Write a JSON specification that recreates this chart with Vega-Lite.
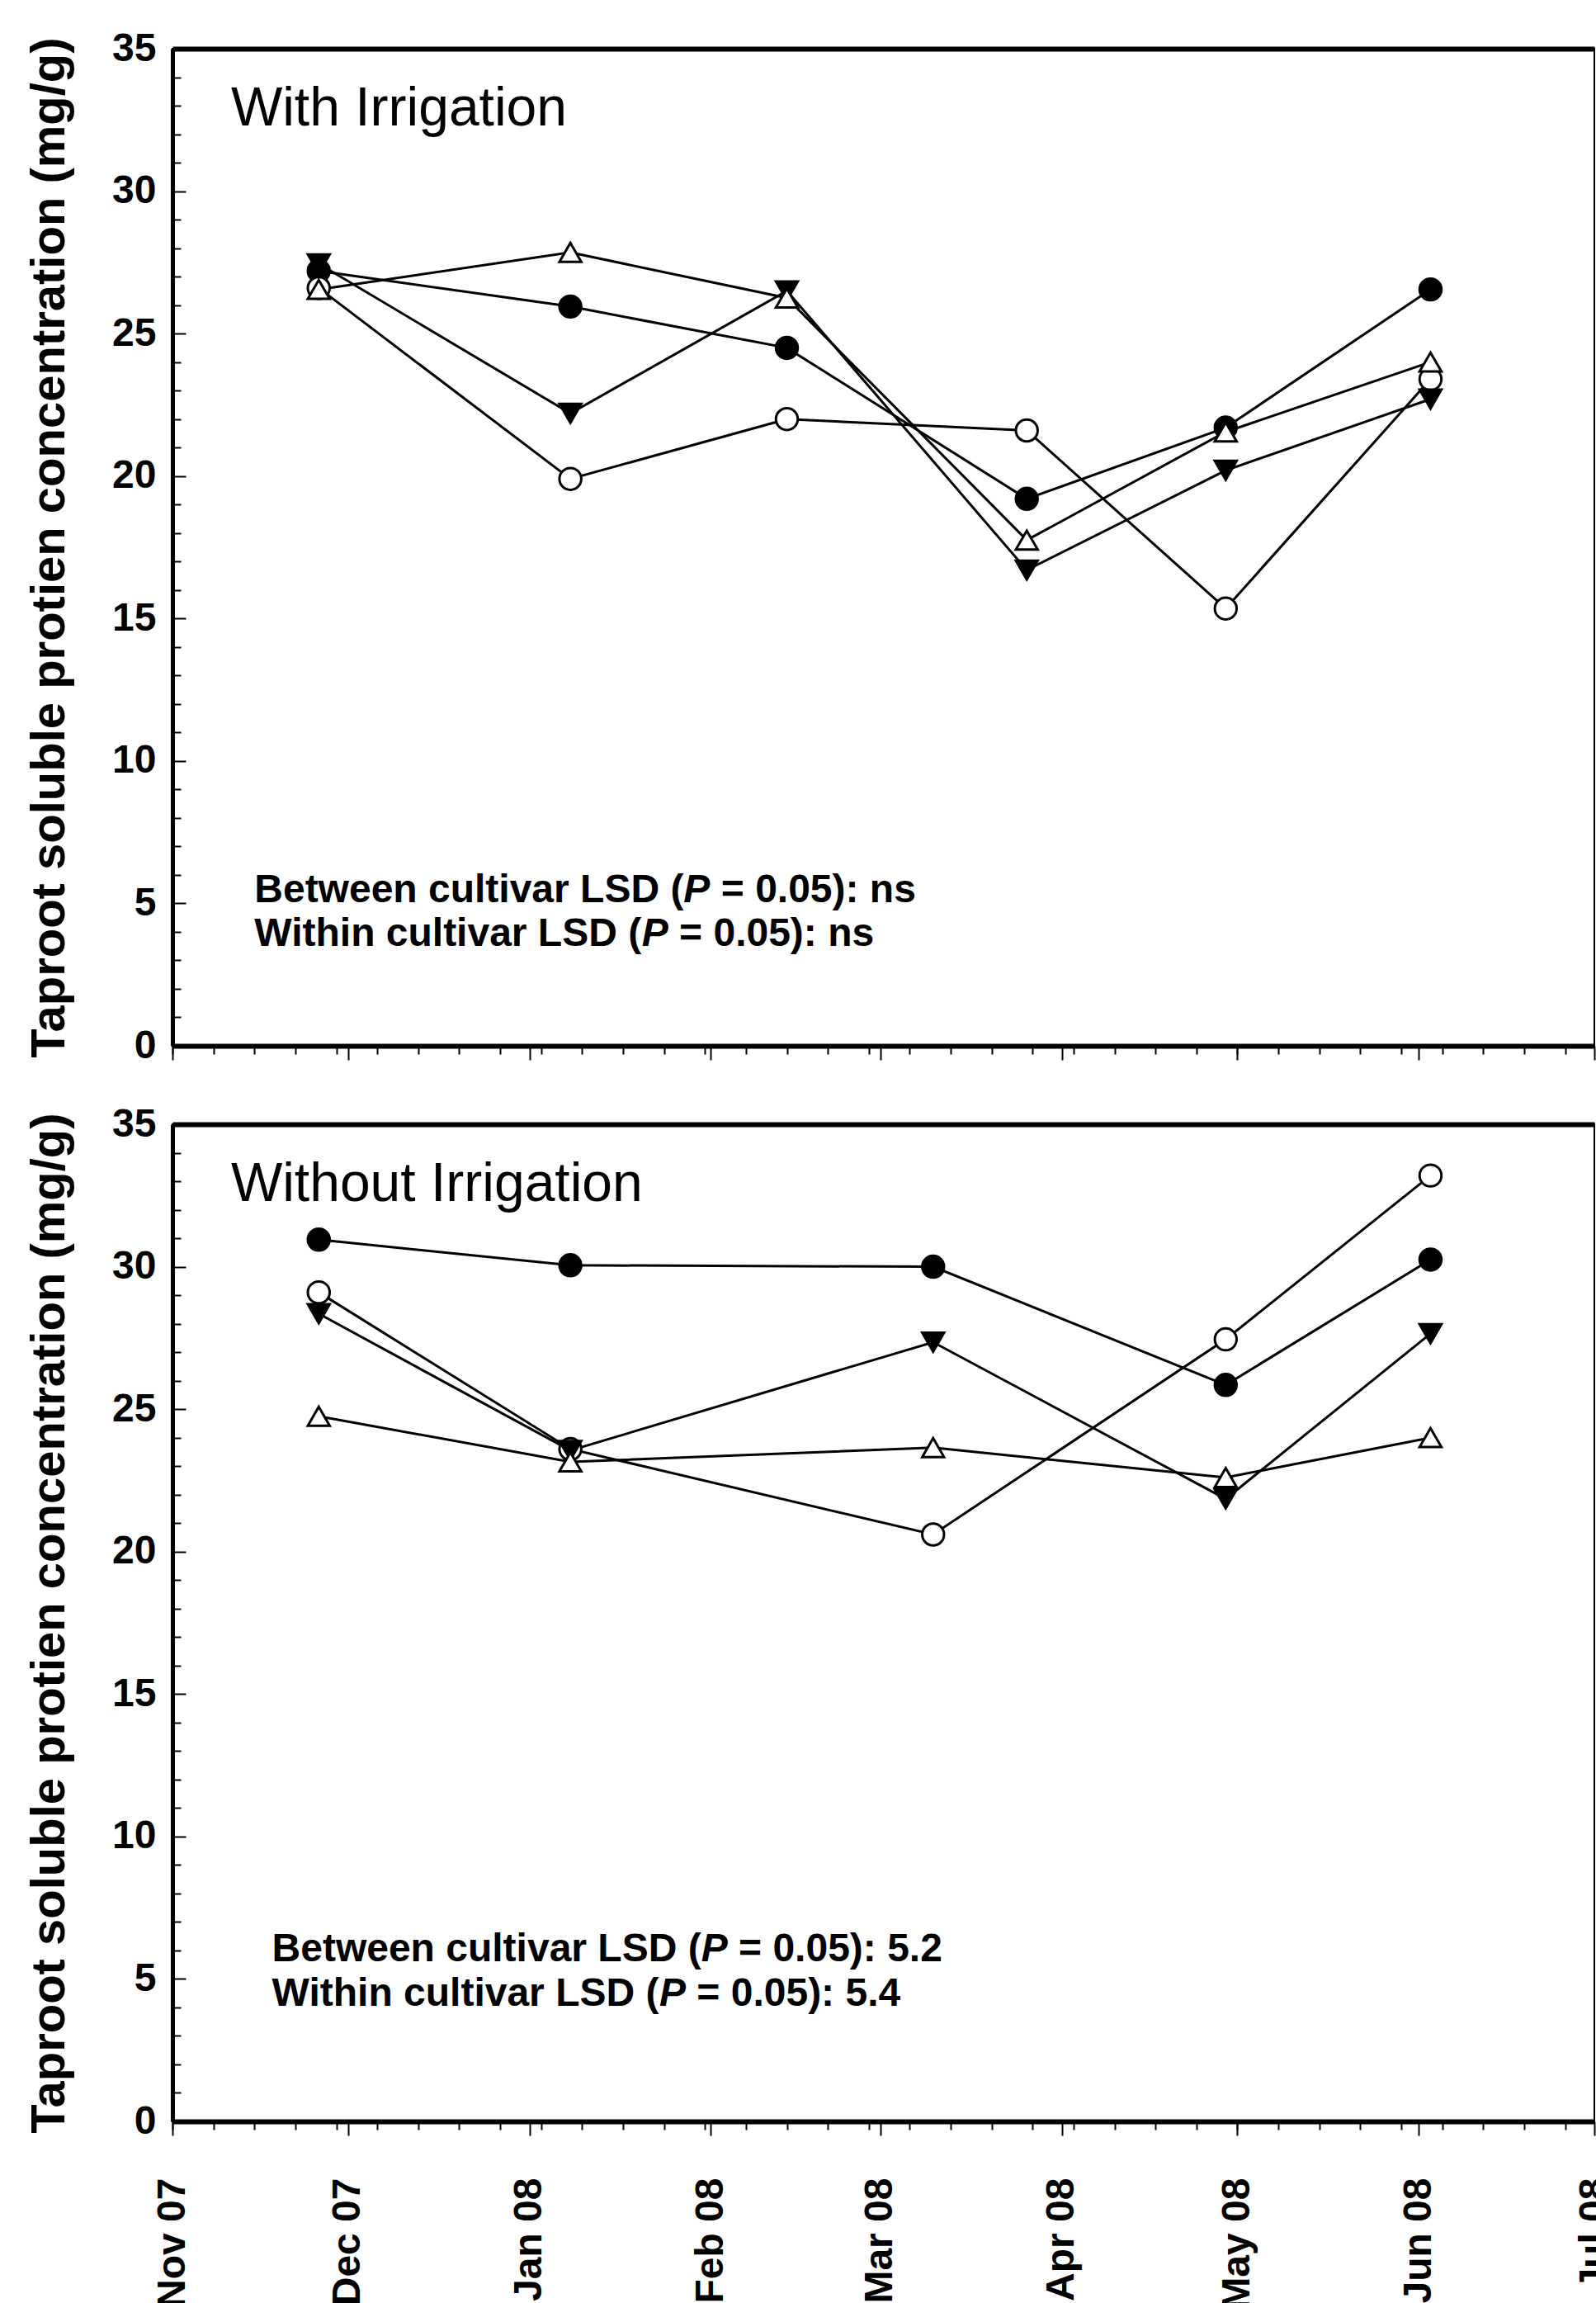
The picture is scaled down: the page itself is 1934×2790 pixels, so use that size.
{
  "$schema": "https://vega.github.io/schema/vega-lite/v6.json",
  "padding": {"left": 30, "top": 34, "right": 0, "bottom": 0},
  "background": "white",
  "config": {
    "view": {"stroke": "black", "strokeWidth": 2},
    "font": "Liberation Sans",
    "axis": {"grid": false, "labelFont": "Liberation Sans", "titleFont": "Liberation Sans", "labelColor": "black", "titleColor": "black", "tickColor": "black", "domainColor": "black"}
  },
  "datasets": {
    "irr": [
      {"cultivar": "Cultivar 1", "date": "2007-11-26", "value": 27.2},
      {"cultivar": "Cultivar 1", "date": "2008-01-08", "value": 25.95},
      {"cultivar": "Cultivar 1", "date": "2008-02-14", "value": 24.5},
      {"cultivar": "Cultivar 1", "date": "2008-03-26", "value": 19.2},
      {"cultivar": "Cultivar 1", "date": "2008-04-29", "value": 21.7},
      {"cultivar": "Cultivar 1", "date": "2008-06-03", "value": 26.55},
      {"cultivar": "Cultivar 2", "date": "2007-11-26", "value": 26.6},
      {"cultivar": "Cultivar 2", "date": "2008-01-08", "value": 19.9},
      {"cultivar": "Cultivar 2", "date": "2008-02-14", "value": 22.0},
      {"cultivar": "Cultivar 2", "date": "2008-03-26", "value": 21.6},
      {"cultivar": "Cultivar 2", "date": "2008-04-29", "value": 15.35},
      {"cultivar": "Cultivar 2", "date": "2008-06-03", "value": 23.4},
      {"cultivar": "Cultivar 3", "date": "2007-11-26", "value": 27.45},
      {"cultivar": "Cultivar 3", "date": "2008-01-08", "value": 22.2},
      {"cultivar": "Cultivar 3", "date": "2008-02-14", "value": 26.5},
      {"cultivar": "Cultivar 3", "date": "2008-03-26", "value": 16.7},
      {"cultivar": "Cultivar 3", "date": "2008-04-29", "value": 20.2},
      {"cultivar": "Cultivar 3", "date": "2008-06-03", "value": 22.7},
      {"cultivar": "Cultivar 4", "date": "2007-11-26", "value": 26.55},
      {"cultivar": "Cultivar 4", "date": "2008-01-08", "value": 27.85},
      {"cultivar": "Cultivar 4", "date": "2008-02-14", "value": 26.25},
      {"cultivar": "Cultivar 4", "date": "2008-03-26", "value": 17.75},
      {"cultivar": "Cultivar 4", "date": "2008-04-29", "value": 21.55},
      {"cultivar": "Cultivar 4", "date": "2008-06-03", "value": 24.0}
    ],
    "dry": [
      {"cultivar": "Cultivar 1", "date": "2007-11-26", "value": 30.95},
      {"cultivar": "Cultivar 1", "date": "2008-01-08", "value": 30.05},
      {"cultivar": "Cultivar 1", "date": "2008-03-10", "value": 30.0},
      {"cultivar": "Cultivar 1", "date": "2008-04-29", "value": 25.85},
      {"cultivar": "Cultivar 1", "date": "2008-06-03", "value": 30.25},
      {"cultivar": "Cultivar 2", "date": "2007-11-26", "value": 29.1},
      {"cultivar": "Cultivar 2", "date": "2008-01-08", "value": 23.6},
      {"cultivar": "Cultivar 2", "date": "2008-03-10", "value": 20.6},
      {"cultivar": "Cultivar 2", "date": "2008-04-29", "value": 27.45},
      {"cultivar": "Cultivar 2", "date": "2008-06-03", "value": 33.2},
      {"cultivar": "Cultivar 3", "date": "2007-11-26", "value": 28.35},
      {"cultivar": "Cultivar 3", "date": "2008-01-08", "value": 23.55},
      {"cultivar": "Cultivar 3", "date": "2008-03-10", "value": 27.35},
      {"cultivar": "Cultivar 3", "date": "2008-04-29", "value": 21.85},
      {"cultivar": "Cultivar 3", "date": "2008-06-03", "value": 27.65},
      {"cultivar": "Cultivar 4", "date": "2007-11-26", "value": 24.75},
      {"cultivar": "Cultivar 4", "date": "2008-01-08", "value": 23.15},
      {"cultivar": "Cultivar 4", "date": "2008-03-10", "value": 23.65},
      {"cultivar": "Cultivar 4", "date": "2008-04-29", "value": 22.6},
      {"cultivar": "Cultivar 4", "date": "2008-06-03", "value": 24.0}
    ],
    "notesIrr": [
      {"kind": "title", "date": "2007-11-11", "value": 32.3, "text": "With Irrigation"},
      {"kind": "a", "date": "2007-11-15", "value": 5.05, "text": "Between cultivar LSD ("},
      {"kind": "p1", "date": "2007-11-15", "value": 5.05, "text": "P"},
      {"kind": "b1", "date": "2007-11-15", "value": 5.05, "text": "= 0.05): ns"},
      {"kind": "a", "date": "2007-11-15", "value": 3.51, "text": "Within cultivar LSD ("},
      {"kind": "p2", "date": "2007-11-15", "value": 3.51, "text": "P"},
      {"kind": "b2", "date": "2007-11-15", "value": 3.51, "text": "= 0.05): ns"}
    ],
    "notesDry": [
      {"kind": "title", "date": "2007-11-11", "value": 32.3, "text": "Without Irrigation"},
      {"kind": "a", "date": "2007-11-18", "value": 5.61, "text": "Between cultivar LSD ("},
      {"kind": "p1", "date": "2007-11-18", "value": 5.61, "text": "P"},
      {"kind": "b1", "date": "2007-11-18", "value": 5.61, "text": "= 0.05): 5.2"},
      {"kind": "a", "date": "2007-11-18", "value": 4.07, "text": "Within cultivar LSD ("},
      {"kind": "p2", "date": "2007-11-18", "value": 4.07, "text": "P"},
      {"kind": "b2", "date": "2007-11-18", "value": 4.07, "text": "= 0.05): 5.4"}
    ]
  },
  "spacing": 95,
  "bounds": "flush",
  "vconcat": [
    {
      "width": 1723,
      "height": 1208,
      "resolve": {"axis": {"x": "independent", "y": "independent"}},
      "layer": [
        {
          "data": {"name": "irr"},
          "mark": {"type": "line", "color": "black", "strokeWidth": 3},
          "encoding": {
            "x": {"field": "date", "type": "temporal",
              "scale": {"type": "utc", "domain": [{"year": 2007, "month": 11, "date": 1, "utc": true}, {"year": 2008, "month": 7, "date": 1, "utc": true}]},
              "axis": {"orient": "bottom", "title": null, "labels": false, "tickSize": 17, "tickWidth": 2, "domainWidth": 6,
                "values": [{"year": 2007, "month": 11, "date": 1, "utc": true}, {"year": 2007, "month": 12, "date": 1, "utc": true}, {"year": 2008, "month": 1, "date": 1, "utc": true}, {"year": 2008, "month": 2, "date": 1, "utc": true}, {"year": 2008, "month": 3, "date": 1, "utc": true}, {"year": 2008, "month": 4, "date": 1, "utc": true}, {"year": 2008, "month": 5, "date": 1, "utc": true}, {"year": 2008, "month": 6, "date": 1, "utc": true}, {"year": 2008, "month": 7, "date": 1, "utc": true}]}},
            "y": {"field": "value", "type": "quantitative",
              "scale": {"domain": [0, 35], "nice": false, "zero": false},
              "axis": {"orient": "left", "values": [0, 5, 10, 15, 20, 25, 30, 35], "tickSize": -16, "tickWidth": 2, "labelPadding": 36, "labelFontSize": 48, "labelFontWeight": "bold", "labelFlush": false, "labelOverlap": false, "domainWidth": 5,
                "title": "Taproot soluble protien concentration (mg/g)", "titleFontSize": 58, "titleFontWeight": "bold", "titlePadding": 46}},
            "detail": {"field": "cultivar", "type": "nominal"}
          }
        },
        {
          "data": {"name": "irr"},
          "mark": {"type": "point", "filled": true, "stroke": "black", "strokeWidth": 3, "size": 700, "opacity": 1, "fillOpacity": 1},
          "encoding": {
            "x": {"field": "date", "type": "temporal",
              "axis": {"orient": "bottom", "title": null, "labels": false, "domain": false, "tickSize": 10, "tickWidth": 2,
                "values": [{"year": 2007, "month": 11, "date": 1, "utc": true}, {"year": 2007, "month": 11, "date": 8, "utc": true}, {"year": 2007, "month": 11, "date": 15, "utc": true}, {"year": 2007, "month": 11, "date": 22, "utc": true}, {"year": 2007, "month": 11, "date": 29, "utc": true}, {"year": 2007, "month": 12, "date": 6, "utc": true}, {"year": 2007, "month": 12, "date": 13, "utc": true}, {"year": 2007, "month": 12, "date": 20, "utc": true}, {"year": 2007, "month": 12, "date": 27, "utc": true}, {"year": 2008, "month": 1, "date": 3, "utc": true}, {"year": 2008, "month": 1, "date": 10, "utc": true}, {"year": 2008, "month": 1, "date": 17, "utc": true}, {"year": 2008, "month": 1, "date": 24, "utc": true}, {"year": 2008, "month": 1, "date": 31, "utc": true}, {"year": 2008, "month": 2, "date": 7, "utc": true}, {"year": 2008, "month": 2, "date": 14, "utc": true}, {"year": 2008, "month": 2, "date": 21, "utc": true}, {"year": 2008, "month": 2, "date": 28, "utc": true}, {"year": 2008, "month": 3, "date": 6, "utc": true}, {"year": 2008, "month": 3, "date": 13, "utc": true}, {"year": 2008, "month": 3, "date": 20, "utc": true}, {"year": 2008, "month": 3, "date": 27, "utc": true}, {"year": 2008, "month": 4, "date": 3, "utc": true}, {"year": 2008, "month": 4, "date": 10, "utc": true}, {"year": 2008, "month": 4, "date": 17, "utc": true}, {"year": 2008, "month": 4, "date": 24, "utc": true}, {"year": 2008, "month": 5, "date": 1, "utc": true}, {"year": 2008, "month": 5, "date": 8, "utc": true}, {"year": 2008, "month": 5, "date": 15, "utc": true}, {"year": 2008, "month": 5, "date": 22, "utc": true}, {"year": 2008, "month": 5, "date": 29, "utc": true}, {"year": 2008, "month": 6, "date": 5, "utc": true}, {"year": 2008, "month": 6, "date": 12, "utc": true}, {"year": 2008, "month": 6, "date": 19, "utc": true}, {"year": 2008, "month": 6, "date": 26, "utc": true}]}},
            "y": {"field": "value", "type": "quantitative",
              "axis": {"orient": "left", "title": null, "labels": false, "domain": false, "tickSize": -10, "tickWidth": 2,
                "values": [1, 2, 3, 4, 6, 7, 8, 9, 11, 12, 13, 14, 16, 17, 18, 19, 21, 22, 23, 24, 26, 27, 28, 29, 31, 32, 33, 34]}},
            "shape": {"field": "cultivar", "type": "nominal", "legend": null,
              "scale": {"domain": ["Cultivar 1", "Cultivar 2", "Cultivar 3", "Cultivar 4"], "range": ["circle", "circle", "triangle-down", "triangle-up"]}},
            "fill": {"field": "cultivar", "type": "nominal", "legend": null,
              "scale": {"domain": ["Cultivar 1", "Cultivar 2", "Cultivar 3", "Cultivar 4"], "range": ["black", "white", "black", "white"]}}
          }
        },
        {
          "data": {"name": "notesIrr"},
          "transform": [{"filter": "datum.kind == 'title'"}],
          "mark": {"type": "text", "align": "left", "baseline": "alphabetic", "fontSize": 66, "color": "black"},
          "encoding": {
            "x": {"field": "date", "type": "temporal", "axis": {"orient": "top", "title": null, "labels": false, "ticks": false, "domainWidth": 6}},
            "y": {"field": "value", "type": "quantitative", "axis": null},
            "text": {"field": "text"}
          }
        },
        {
          "data": {"name": "notesIrr"},
          "transform": [{"filter": "datum.kind == 'a'"}],
          "mark": {"type": "text", "align": "left", "baseline": "alphabetic", "fontSize": 48, "fontWeight": "bold", "color": "black"},
          "encoding": {
            "x": {"field": "date", "type": "temporal", "axis": null},
            "y": {"field": "value", "type": "quantitative", "axis": null},
            "text": {"field": "text"}
          }
        },
        {
          "data": {"name": "notesIrr"},
          "transform": [{"filter": "datum.kind == 'p1'"}],
          "mark": {"type": "text", "align": "left", "baseline": "alphabetic", "fontSize": 48, "fontWeight": "bold", "fontStyle": "italic", "color": "black", "dx": 520.1},
          "encoding": {
            "x": {"field": "date", "type": "temporal", "axis": null},
            "y": {"field": "value", "type": "quantitative", "axis": null},
            "text": {"field": "text"}
          }
        },
        {
          "data": {"name": "notesIrr"},
          "transform": [{"filter": "datum.kind == 'b1'"}],
          "mark": {"type": "text", "align": "left", "baseline": "alphabetic", "fontSize": 48, "fontWeight": "bold", "color": "black", "dx": 565.5},
          "encoding": {
            "x": {"field": "date", "type": "temporal", "axis": null},
            "y": {"field": "value", "type": "quantitative", "axis": null},
            "text": {"field": "text"}
          }
        },
        {
          "data": {"name": "notesIrr"},
          "transform": [{"filter": "datum.kind == 'p2'"}],
          "mark": {"type": "text", "align": "left", "baseline": "alphabetic", "fontSize": 48, "fontWeight": "bold", "fontStyle": "italic", "color": "black", "dx": 469.4},
          "encoding": {
            "x": {"field": "date", "type": "temporal", "axis": null},
            "y": {"field": "value", "type": "quantitative", "axis": null},
            "text": {"field": "text"}
          }
        },
        {
          "data": {"name": "notesIrr"},
          "transform": [{"filter": "datum.kind == 'b2'"}],
          "mark": {"type": "text", "align": "left", "baseline": "alphabetic", "fontSize": 48, "fontWeight": "bold", "color": "black", "dx": 514.8},
          "encoding": {
            "x": {"field": "date", "type": "temporal", "axis": null},
            "y": {"field": "value", "type": "quantitative", "axis": null},
            "text": {"field": "text"}
          }
        }
      ]
    },
    {
      "width": 1723,
      "height": 1208,
      "resolve": {"axis": {"x": "independent", "y": "independent"}},
      "layer": [
        {
          "data": {"name": "dry"},
          "mark": {"type": "line", "color": "black", "strokeWidth": 3},
          "encoding": {
            "x": {"field": "date", "type": "temporal",
              "scale": {"type": "utc", "domain": [{"year": 2007, "month": 11, "date": 1, "utc": true}, {"year": 2008, "month": 7, "date": 1, "utc": true}]},
              "axis": {"orient": "bottom", "title": null, "format": "%b %y", "labelAngle": 270, "labelFontSize": 48, "labelFontWeight": "bold", "labelPadding": 51, "labelFlush": false, "labelOverlap": false, "labelBound": false, "tickSize": 17, "tickWidth": 2, "domainWidth": 6,
                "values": [{"year": 2007, "month": 11, "date": 1, "utc": true}, {"year": 2007, "month": 12, "date": 1, "utc": true}, {"year": 2008, "month": 1, "date": 1, "utc": true}, {"year": 2008, "month": 2, "date": 1, "utc": true}, {"year": 2008, "month": 3, "date": 1, "utc": true}, {"year": 2008, "month": 4, "date": 1, "utc": true}, {"year": 2008, "month": 5, "date": 1, "utc": true}, {"year": 2008, "month": 6, "date": 1, "utc": true}, {"year": 2008, "month": 7, "date": 1, "utc": true}]}},
            "y": {"field": "value", "type": "quantitative",
              "scale": {"domain": [0, 35], "nice": false, "zero": false},
              "axis": {"orient": "left", "values": [0, 5, 10, 15, 20, 25, 30, 35], "tickSize": -16, "tickWidth": 2, "labelPadding": 36, "labelFontSize": 48, "labelFontWeight": "bold", "labelFlush": false, "labelOverlap": false, "domainWidth": 5,
                "title": "Taproot soluble protien concentration (mg/g)", "titleFontSize": 58, "titleFontWeight": "bold", "titlePadding": 46}},
            "detail": {"field": "cultivar", "type": "nominal"}
          }
        },
        {
          "data": {"name": "dry"},
          "mark": {"type": "point", "filled": true, "stroke": "black", "strokeWidth": 3, "size": 700, "opacity": 1, "fillOpacity": 1},
          "encoding": {
            "x": {"field": "date", "type": "temporal",
              "axis": {"orient": "bottom", "title": null, "labels": false, "domain": false, "tickSize": 10, "tickWidth": 2,
                "values": [{"year": 2007, "month": 11, "date": 1, "utc": true}, {"year": 2007, "month": 11, "date": 8, "utc": true}, {"year": 2007, "month": 11, "date": 15, "utc": true}, {"year": 2007, "month": 11, "date": 22, "utc": true}, {"year": 2007, "month": 11, "date": 29, "utc": true}, {"year": 2007, "month": 12, "date": 6, "utc": true}, {"year": 2007, "month": 12, "date": 13, "utc": true}, {"year": 2007, "month": 12, "date": 20, "utc": true}, {"year": 2007, "month": 12, "date": 27, "utc": true}, {"year": 2008, "month": 1, "date": 3, "utc": true}, {"year": 2008, "month": 1, "date": 10, "utc": true}, {"year": 2008, "month": 1, "date": 17, "utc": true}, {"year": 2008, "month": 1, "date": 24, "utc": true}, {"year": 2008, "month": 1, "date": 31, "utc": true}, {"year": 2008, "month": 2, "date": 7, "utc": true}, {"year": 2008, "month": 2, "date": 14, "utc": true}, {"year": 2008, "month": 2, "date": 21, "utc": true}, {"year": 2008, "month": 2, "date": 28, "utc": true}, {"year": 2008, "month": 3, "date": 6, "utc": true}, {"year": 2008, "month": 3, "date": 13, "utc": true}, {"year": 2008, "month": 3, "date": 20, "utc": true}, {"year": 2008, "month": 3, "date": 27, "utc": true}, {"year": 2008, "month": 4, "date": 3, "utc": true}, {"year": 2008, "month": 4, "date": 10, "utc": true}, {"year": 2008, "month": 4, "date": 17, "utc": true}, {"year": 2008, "month": 4, "date": 24, "utc": true}, {"year": 2008, "month": 5, "date": 1, "utc": true}, {"year": 2008, "month": 5, "date": 8, "utc": true}, {"year": 2008, "month": 5, "date": 15, "utc": true}, {"year": 2008, "month": 5, "date": 22, "utc": true}, {"year": 2008, "month": 5, "date": 29, "utc": true}, {"year": 2008, "month": 6, "date": 5, "utc": true}, {"year": 2008, "month": 6, "date": 12, "utc": true}, {"year": 2008, "month": 6, "date": 19, "utc": true}, {"year": 2008, "month": 6, "date": 26, "utc": true}]}},
            "y": {"field": "value", "type": "quantitative",
              "axis": {"orient": "left", "title": null, "labels": false, "domain": false, "tickSize": -10, "tickWidth": 2,
                "values": [1, 2, 3, 4, 6, 7, 8, 9, 11, 12, 13, 14, 16, 17, 18, 19, 21, 22, 23, 24, 26, 27, 28, 29, 31, 32, 33, 34]}},
            "shape": {"field": "cultivar", "type": "nominal", "legend": null,
              "scale": {"domain": ["Cultivar 1", "Cultivar 2", "Cultivar 3", "Cultivar 4"], "range": ["circle", "circle", "triangle-down", "triangle-up"]}},
            "fill": {"field": "cultivar", "type": "nominal", "legend": null,
              "scale": {"domain": ["Cultivar 1", "Cultivar 2", "Cultivar 3", "Cultivar 4"], "range": ["black", "white", "black", "white"]}}
          }
        },
        {
          "data": {"name": "notesDry"},
          "transform": [{"filter": "datum.kind == 'title'"}],
          "mark": {"type": "text", "align": "left", "baseline": "alphabetic", "fontSize": 66, "color": "black"},
          "encoding": {
            "x": {"field": "date", "type": "temporal", "axis": {"orient": "top", "title": null, "labels": false, "ticks": false, "domainWidth": 6}},
            "y": {"field": "value", "type": "quantitative", "axis": null},
            "text": {"field": "text"}
          }
        },
        {
          "data": {"name": "notesDry"},
          "transform": [{"filter": "datum.kind == 'a'"}],
          "mark": {"type": "text", "align": "left", "baseline": "alphabetic", "fontSize": 48, "fontWeight": "bold", "color": "black"},
          "encoding": {
            "x": {"field": "date", "type": "temporal", "axis": null},
            "y": {"field": "value", "type": "quantitative", "axis": null},
            "text": {"field": "text"}
          }
        },
        {
          "data": {"name": "notesDry"},
          "transform": [{"filter": "datum.kind == 'p1'"}],
          "mark": {"type": "text", "align": "left", "baseline": "alphabetic", "fontSize": 48, "fontWeight": "bold", "fontStyle": "italic", "color": "black", "dx": 520.1},
          "encoding": {
            "x": {"field": "date", "type": "temporal", "axis": null},
            "y": {"field": "value", "type": "quantitative", "axis": null},
            "text": {"field": "text"}
          }
        },
        {
          "data": {"name": "notesDry"},
          "transform": [{"filter": "datum.kind == 'b1'"}],
          "mark": {"type": "text", "align": "left", "baseline": "alphabetic", "fontSize": 48, "fontWeight": "bold", "color": "black", "dx": 565.5},
          "encoding": {
            "x": {"field": "date", "type": "temporal", "axis": null},
            "y": {"field": "value", "type": "quantitative", "axis": null},
            "text": {"field": "text"}
          }
        },
        {
          "data": {"name": "notesDry"},
          "transform": [{"filter": "datum.kind == 'p2'"}],
          "mark": {"type": "text", "align": "left", "baseline": "alphabetic", "fontSize": 48, "fontWeight": "bold", "fontStyle": "italic", "color": "black", "dx": 469.4},
          "encoding": {
            "x": {"field": "date", "type": "temporal", "axis": null},
            "y": {"field": "value", "type": "quantitative", "axis": null},
            "text": {"field": "text"}
          }
        },
        {
          "data": {"name": "notesDry"},
          "transform": [{"filter": "datum.kind == 'b2'"}],
          "mark": {"type": "text", "align": "left", "baseline": "alphabetic", "fontSize": 48, "fontWeight": "bold", "color": "black", "dx": 514.8},
          "encoding": {
            "x": {"field": "date", "type": "temporal", "axis": null},
            "y": {"field": "value", "type": "quantitative", "axis": null},
            "text": {"field": "text"}
          }
        }
      ]
    }
  ]
}
